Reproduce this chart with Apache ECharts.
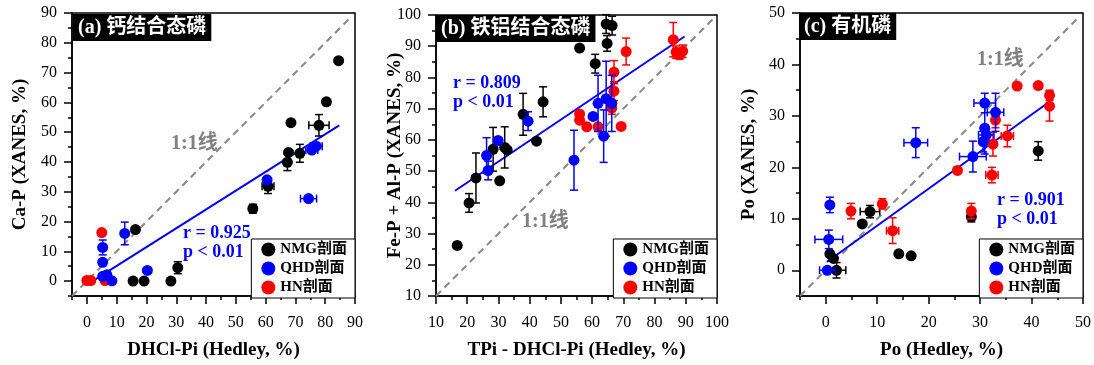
<!DOCTYPE html>
<html>
<head>
<meta charset="utf-8">
<script src="https://cdn.jsdelivr.net/npm/echarts@6/dist/echarts.min.js"></script>
<style>
  html, body { margin: 0; padding: 0; background: #fff; }
  #chart { width: 1094px; height: 365px; }
</style>
</head>
<body>
<div id="chart"></div>
<script>
// Each point: [x, y, xError, yError]

// (a) calcium-bound P
const caNMG = [
  [84.5, 74.0, 0, 0], [80.4, 60.2, 0, 0], [68.5, 53.2, 0, 0], [77.9, 52.3, 3.4, 3.6],
  [67.7, 43.2, 0, 0], [71.5, 42.9, 0, 3.0], [67.3, 39.9, 0, 2.8], [60.8, 31.8, 2.0, 2.4],
  [55.7, 24.3, 0, 1.5], [16.3, 17.3, 0, 0], [15.5, 0.0, 0, 0], [19.2, 0.0, 0, 0],
  [28.2, 0.0, 0, 0], [30.5, 4.5, 0, 2.0]
];
const caQHD = [
  [75.5, 44.0, 2.0, 0], [77.0, 45.3, 2.0, 0], [60.5, 34.0, 0, 0], [74.4, 27.7, 2.7, 0],
  [12.7, 16.0, 0, 3.8], [5.3, 11.3, 0, 2.5], [5.3, 6.3, 0, 0], [5.3, 1.6, 0, 0],
  [6.7, 2.1, 0, 0], [8.4, 0.1, 0, 0], [20.3, 3.6, 0, 0]
];
const caHN = [
  [5.0, 16.3, 0, 0], [0.0, 0.2, 0, 0], [1.3, 0.2, 0, 0], [6.1, 0.2, 0, 0]
];
const caFit = [[0.3, -1.0], [84.7, 52.3]];

// (b) iron/aluminium-bound P
const feNMG = [
  [64.5, 97.1, 0, 3.0], [66.4, 96.6, 0, 3.0], [56.0, 89.4, 0, 0], [64.8, 90.9, 0, 2.5],
  [61.0, 84.4, 0, 3.0], [44.3, 72.2, 0, 4.8], [37.9, 68.2, 0, 6.7], [42.2, 59.6, 0, 0],
  [28.3, 57.0, 0, 7.0], [32.0, 57.6, 0, 6.6], [32.8, 56.8, 0, 0], [22.8, 47.8, 0, 8.0],
  [30.4, 46.9, 0, 0], [20.6, 39.8, 0, 3.0], [16.8, 26.2, 0, 0]
];
const feQHD = [
  [64.5, 73.2, 0, 12.0], [61.9, 71.7, 0, 9.0], [66.3, 71.7, 0, 9.0], [63.7, 61.2, 0, 8.4],
  [60.3, 67.5, 0, 0], [39.5, 66.0, 0, 3.0], [29.9, 59.8, 0, 0], [26.2, 55.0, 0, 5.7],
  [26.7, 50.2, 0, 3.0], [54.2, 53.5, 0, 9.6]
];
const feHN = [
  [86.0, 92.1, 0, 5.5], [70.9, 88.3, 0, 4.3], [86.9, 88.1, 0, 2.0], [89.0, 88.4, 0, 2.0],
  [88.0, 87.3, 0, 1.5], [67.0, 81.7, 0, 3.7], [67.0, 75.6, 0, 3.0], [66.3, 70.2, 0, 2.0],
  [56.0, 68.3, 0, 0], [56.0, 66.3, 0, 0], [58.3, 64.2, 0, 0], [61.9, 64.2, 0, 0],
  [69.3, 64.3, 0, 0]
];
const feFit = [[16.1, 43.7], [89.6, 93.1]];

// (c) organic P
const poNMG = [
  [41.3, 23.2, 0, 1.8], [28.3, 10.4, 0, 1.0], [8.6, 11.4, 1.9, 1.2], [7.1, 9.0, 0, 0],
  [0.8, 3.2, 0, 0], [1.5, 2.3, 0, 0], [14.2, 3.2, 0, 0], [16.6, 2.8, 0, 0],
  [2.1, 0.0, 1.8, 1.5]
];
const poQHD = [
  [30.9, 32.5, 2.1, 1.9], [33.0, 30.7, 1.6, 3.7], [30.9, 27.6, 0, 5.0], [31.2, 26.3, 1.5, 1.0],
  [30.6, 25.0, 0, 2.0], [17.5, 24.8, 2.3, 2.9], [28.6, 22.1, 2.6, 3.0], [0.8, 12.7, 0, 1.5],
  [0.6, 6.0, 2.7, 1.8], [0.3, 0.0, 1.5, 0]
];
const poHN = [
  [37.2, 35.8, 0, 0], [41.3, 35.9, 0, 0], [43.5, 34.0, 0, 1.0], [43.5, 31.9, 0, 2.9],
  [33.0, 29.2, 0, 1.5], [35.3, 26.1, 1.2, 2.1], [32.5, 24.5, 0, 2.3], [25.6, 19.4, 0, 0],
  [32.3, 18.5, 1.2, 1.5], [28.3, 11.5, 0, 1.5], [11.0, 12.9, 0, 1.0], [4.9, 11.5, 0, 1.5],
  [13.0, 7.7, 1.2, 2.5]
];
const poFit = [[0.2, 1.6], [43.0, 32.4]];

// Axis ranges and tick values
const caRange = [-5, 90];
const feRange = [10, 100];
const poRange = [-5, 50];
const caMajor = [0, 10, 20, 30, 40, 50, 60, 70, 80, 90];
const caMinor = [-5, 5, 15, 25, 35, 45, 55, 65, 75, 85];
const feMajor = [10, 20, 30, 40, 50, 60, 70, 80, 90, 100];
const feMinor = [15, 25, 35, 45, 55, 65, 75, 85, 95];
const poMajor = [0, 10, 20, 30, 40, 50];
const poMinor = [-5, 5, 15, 25, 35, 45];

// 1:1 reference line end points
const caDiag = [-5, 89];
const feDiag = [10, 99];
const poDiag = [-5, 49];

const groupNames = ['NMG剖面', 'QHD剖面', 'HN剖面'];
const groupColors = ['#000000', '#0000ff', '#ff0000'];

const SERIF = "'Liberation Serif', 'Times New Roman', 'Noto Sans CJK SC', serif";

const panels = [
  {
    grid: { left: 72, top: 13, width: 283, height: 285 },
    range: caRange, major: caMajor, minor: caMinor, diag: caDiag, fit: caFit,
    groups: [caNMG, caQHD, caHN],
    xName: 'DHCl-Pi (Hedley, %)', yName: 'Ca-P (XANES, %)', yGap: 42,
    title: '(a) 钙结合态磷', titlePos: { left: 73, top: 14 },
    legendPos: { right: 1094 - 355, bottom: 365 - 298 },
    ratio: { text: '1:1线', x: 195, y: 145 },
    stat: { r: 'r = 0.925', p: 'p < 0.01', x: 183, y: 234 }
  },
  {
    grid: { left: 436, top: 15, width: 281, height: 283 },
    range: feRange, major: feMajor, minor: feMinor, diag: feDiag, fit: feFit,
    groups: [feNMG, feQHD, feHN],
    xName: 'TPi - DHCl-Pi (Hedley, %)', yName: 'Fe-P + Al-P (XANES, %)', yGap: 31,
    title: '(b) 铁铝结合态磷', titlePos: { left: 436, top: 15 },
    legendPos: { right: 1094 - 717, bottom: 365 - 298 },
    ratio: { text: '1:1线', x: 546, y: 223 },
    stat: { r: 'r = 0.809', p: 'p < 0.01', x: 453, y: 84 }
  },
  {
    grid: { left: 800, top: 13, width: 283, height: 285 },
    range: poRange, major: poMajor, minor: poMinor, diag: poDiag, fit: poFit,
    groups: [poNMG, poQHD, poHN],
    xName: 'Po (Hedley, %)', yName: 'Po (XANES, %)', yGap: 41,
    title: '(c) 有机磷', titlePos: { left: 799, top: 13 },
    legendPos: { right: 1094 - 1083, bottom: 365 - 298 },
    ratio: { text: '1:1线', x: 1001, y: 61 },
    stat: { r: 'r = 0.901', p: 'p < 0.01', x: 997, y: 201 }
  }
];

// Error bars with caps, drawn through the panel's scales
function renderErrorBar(params, api) {
  const x = api.value(0), y = api.value(1);
  const ex = api.value(2), ey = api.value(3);
  const c = api.coord([x, y]);
  const style = { stroke: api.visual('color'), lineWidth: 1.5 };
  const cap = 4;
  const children = [];
  if (ey > 0) {
    const top = api.coord([x, y + ey])[1];
    const bot = api.coord([x, y - ey])[1];
    children.push({ type: 'line', shape: { x1: c[0], y1: top, x2: c[0], y2: bot }, style });
    children.push({ type: 'line', shape: { x1: c[0] - cap, y1: top, x2: c[0] + cap, y2: top }, style });
    children.push({ type: 'line', shape: { x1: c[0] - cap, y1: bot, x2: c[0] + cap, y2: bot }, style });
  }
  if (ex > 0) {
    const l = api.coord([x - ex, y])[0];
    const r = api.coord([x + ex, y])[0];
    children.push({ type: 'line', shape: { x1: l, y1: c[1], x2: r, y2: c[1] }, style });
    children.push({ type: 'line', shape: { x1: l, y1: c[1] - cap, x2: l, y2: c[1] + cap }, style });
    children.push({ type: 'line', shape: { x1: r, y1: c[1] - cap, x2: r, y2: c[1] + cap }, style });
  }
  return { type: 'group', children };
}

const grid = [], xAxis = [], yAxis = [], series = [], title = [], legend = [], graphic = [];

// draw order: black, red, blue
const drawOrder = [0, 2, 1];

panels.forEach((p, i) => {
  grid.push(Object.assign({ show: true, borderColor: '#000', borderWidth: 1.5, backgroundColor: 'transparent' }, p.grid));

  const labelStyle = { fontFamily: SERIF, fontSize: 16, color: '#000' };
  // main axes: labels + major ticks
  xAxis.push({
    gridIndex: i, type: 'value', min: p.range[0], max: p.range[1], position: 'bottom',
    name: p.xName, nameLocation: 'middle', nameGap: 45, nameMoveOverlap: false,
    nameTextStyle: { fontFamily: SERIF, fontSize: 19, fontWeight: 'bold', color: '#000' },
    axisLine: { show: true, onZero: false, lineStyle: { color: '#000', width: 1.5 } },
    axisTick: { show: true, length: 8, customValues: p.major, lineStyle: { color: '#000', width: 1.5 } },
    axisLabel: { show: true, margin: 19, customValues: p.major, ...labelStyle },
    splitLine: { show: false }
  });
  yAxis.push({
    gridIndex: i, type: 'value', min: p.range[0], max: p.range[1], position: 'left',
    name: p.yName, nameLocation: 'middle', nameGap: p.yGap, nameMoveOverlap: false,
    nameTextStyle: { fontFamily: SERIF, fontSize: 19, fontWeight: 'bold', color: '#000' },
    axisLine: { show: true, onZero: false, lineStyle: { color: '#000', width: 1.5 } },
    axisTick: { show: true, length: 8, customValues: p.major, lineStyle: { color: '#000', width: 1.5 } },
    axisLabel: { show: true, margin: 15, customValues: p.major, ...labelStyle },
    splitLine: { show: false }
  });
  // companion axes: minor ticks only
  xAxis.push({
    gridIndex: i, type: 'value', min: p.range[0], max: p.range[1], position: 'bottom',
    axisLine: { show: false, onZero: false },
    axisTick: { show: true, length: 4, customValues: p.minor, lineStyle: { color: '#000', width: 1.5 } },
    axisLabel: { show: false }, splitLine: { show: false }
  });
  yAxis.push({
    gridIndex: i, type: 'value', min: p.range[0], max: p.range[1], position: 'left',
    axisLine: { show: false, onZero: false },
    axisTick: { show: true, length: 4, customValues: p.minor, lineStyle: { color: '#000', width: 1.5 } },
    axisLabel: { show: false }, splitLine: { show: false }
  });

  const xi = i * 2, yi = i * 2;

  // 1:1 line
  series.push({
    type: 'line', xAxisIndex: xi, yAxisIndex: yi, silent: true, symbol: 'none', z: 1,
    data: [[p.diag[0], p.diag[0]], [p.diag[1], p.diag[1]]],
    lineStyle: { color: '#888888', width: 2, type: [7, 5] }
  });
  // regression line
  series.push({
    type: 'line', xAxisIndex: xi, yAxisIndex: yi, silent: true, symbol: 'none', z: 2,
    data: p.fit,
    lineStyle: { color: '#0000ff', width: 2 }
  });

  drawOrder.forEach((g, k) => {
    series.push({
      type: 'custom', name: groupNames[g] + ' 误差', xAxisIndex: xi, yAxisIndex: yi,
      renderItem: renderErrorBar, silent: true, z: 3 + k * 2,
      itemStyle: { color: groupColors[g] },
      encode: { x: 0, y: 1 },
      data: p.groups[g]
    });
    series.push({
      type: 'scatter', name: groupNames[g], xAxisIndex: xi, yAxisIndex: yi,
      symbol: 'circle', symbolSize: 11, z: 4 + k * 2,
      itemStyle: { color: groupColors[g], opacity: 1 },
      data: p.groups[g].map(d => [d[0], d[1]])
    });
  });

  title.push({
    text: p.title, left: p.titlePos.left, top: p.titlePos.top,
    backgroundColor: '#000', padding: [4, 5, 3, 5],
    textStyle: { color: '#fff', fontFamily: SERIF, fontSize: 20, fontWeight: 'bold' }
  });

  legend.push({
    orient: 'vertical', right: p.legendPos.right, bottom: p.legendPos.bottom,
    selectedMode: false, borderColor: '#000', borderWidth: 1, borderRadius: 0,
    backgroundColor: '#fff', padding: [3, 8, 3, 10],
    itemWidth: 14, itemHeight: 14, itemGap: 4,
    data: groupNames.map(n => ({ name: n, icon: 'circle' })),
    textStyle: { fontFamily: SERIF, fontSize: 15, fontWeight: 'bold', color: '#000' }
  });

  graphic.push({
    type: 'text', left: p.ratio.x - 24, top: p.ratio.y - 11, z: 10,
    style: { text: p.ratio.text, fill: '#808080', font: "bold 20px " + SERIF }
  });
  graphic.push({
    type: 'text', left: p.stat.x, top: p.stat.y - 10, z: 10,
    style: { text: p.stat.r + '\n' + p.stat.p, fill: '#0000ff', font: "bold 18px " + SERIF, lineHeight: 19 }
  });
});

const chart = echarts.init(document.getElementById('chart'), null, { renderer: 'canvas' });
chart.setOption({
  animation: false,
  backgroundColor: '#fff',
  grid, xAxis, yAxis, series, title, legend, graphic
});
</script>
</body>
</html>
